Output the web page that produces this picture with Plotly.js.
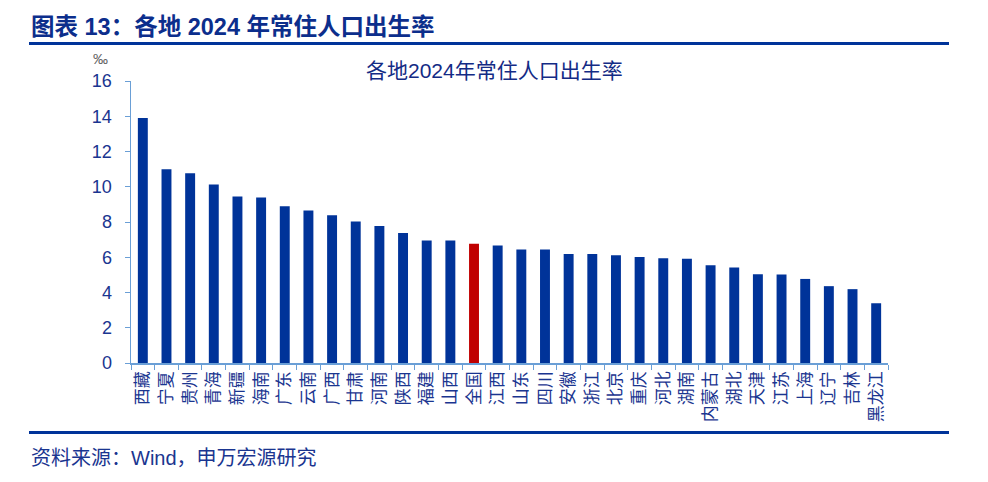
<!DOCTYPE html>
<html>
<head>
<meta charset="utf-8">
<script src="https://cdn.plot.ly/plotly-3.0.1.min.js"></script>
<style>html,body{margin:0;padding:0;background:#fff;}#chart{width:988px;height:482px;}</style>
</head>
<body>
<div id="chart"></div>
<script>
const regions = ["西藏","宁夏","贵州","青海","新疆","海南","广东","云南","广西","甘肃","河南","陕西","福建","山西","全国","江西","山东","四川","安徽","浙江","北京","重庆","河北","湖南","内蒙古","湖北","天津","江苏","上海","辽宁","吉林","黑龙江"];
const birthRate = [13.9,11.0,10.76,10.13,9.45,9.39,8.9,8.65,8.39,8.03,7.78,7.37,6.95,6.95,6.77,6.67,6.44,6.44,6.19,6.19,6.12,6.02,5.95,5.91,5.55,5.42,5.04,5.02,4.77,4.36,4.19,3.39];
const highlight = "全国";
const yTicks = [0,2,4,6,8,10,12,14,16];

const FONT = "'Liberation Sans', Arial, 'Noto Sans CJK SC', sans-serif";
const NAVY = "#1a3590";
const BAR = "#003399";
const RED = "#c00000";
const AXIS = "#6a9fd6";

// pixel -> paper helpers for the fixed plot area
const L = 131, R = 888, T = 81, B = 363;
const px = x => (x - L) / (R - L);
const py = y => (B - y) / (B - T);

const trace = {
  type: "bar",
  x: regions,
  y: birthRate,
  marker: { color: regions.map(r => r === highlight ? RED : BAR), line: { width: 0 } },
  hoverinfo: "x+y"
};

const layout = {
  width: 988, height: 482,
  margin: { l: L, r: 988 - R, t: T, b: 482 - B, pad: 0 },
  paper_bgcolor: "#fff", plot_bgcolor: "#fff",
  showlegend: false,
  bargap: 0.58,
  font: { family: FONT, color: NAVY },
  xaxis: {
    type: "category",
    tickmode: "array",
    tickvals: regions,
    ticktext: regions,
    tickangle: -90,
    tickfont: { size: 17, color: NAVY, family: "'Noto Sans CJK SC', sans-serif" },
    showline: true, linecolor: AXIS, linewidth: 1.5,
    ticks: "outside", tickson: "boundaries", ticklen: 5, tickcolor: AXIS, tickwidth: 1,
    showgrid: false, zeroline: false, fixedrange: true
  },
  yaxis: {
    range: [0, 16],
    tickmode: "array", tickvals: yTicks, ticktext: yTicks.map(String),
    tickfont: { size: 18, color: NAVY, family: FONT },
    ticklabelstandoff: 9,
    showline: true, linecolor: AXIS, linewidth: 1.5,
    ticks: "outside", ticklen: 5, tickcolor: AXIS, tickwidth: 1,
    showgrid: false, zeroline: false, fixedrange: true
  },
  shapes: [
    { type: "line", xref: "paper", yref: "paper", x0: px(29), x1: px(949), y0: py(43.5), y1: py(43.5), line: { color: "#003399", width: 3 } },
    { type: "line", xref: "paper", yref: "paper", x0: px(29), x1: px(949), y0: py(432.5), y1: py(432.5), line: { color: "#003399", width: 3 } }
  ],
  annotations: [
    { xref: "paper", yref: "paper", x: px(29), y: py(27), xanchor: "left", yanchor: "middle", showarrow: false,
      text: "<b>图表 13：各地 2024 年常住人口出生率</b>", font: { size: 23.5, color: "#0c2e8c", family: FONT, weight: "bold" } },
    { xref: "paper", yref: "paper", x: px(494), y: py(70), xanchor: "center", yanchor: "middle", showarrow: false,
      text: "各地2024年常住人口出生率", font: { size: 21, color: "#132b85", family: FONT } },
    { xref: "paper", yref: "paper", x: px(100), y: py(58), xanchor: "center", yanchor: "middle", showarrow: false,
      text: "‰", font: { size: 15, color: "#666666", family: FONT } },
    { xref: "paper", yref: "paper", x: px(29), y: py(458), xanchor: "left", yanchor: "middle", showarrow: false,
      text: "资料来源：Wind，申万宏源研究", font: { size: 20, color: NAVY, family: FONT } }
  ]
};

Plotly.newPlot("chart", [trace], layout, { displayModeBar: false, staticPlot: true });
</script>
</body>
</html>
